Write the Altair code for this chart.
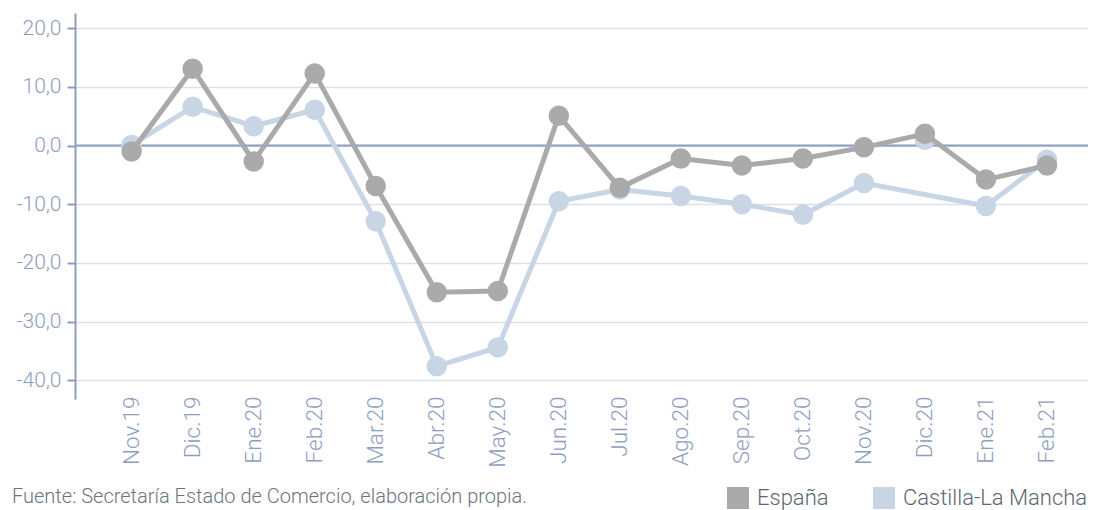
import altair as alt
import pandas as pd

months = ["Nov.19", "Dic.19", "Ene.20", "Feb.20", "Mar.20", "Abr.20", "May.20", "Jun.20",
          "Jul.20", "Ago.20", "Sep.20", "Oct.20", "Nov.20", "Dic.20", "Ene.21", "Feb.21"]
espana = [-1.0, 13.1, -2.7, 12.3, -6.9, -25.0, -24.8, 5.1, -7.2, -2.2, -3.4, -2.2, -0.3, 2.0, -5.8, -3.4]
clm = [0.1, 6.6, 3.3, 6.1, -12.9, -37.6, -34.4, -9.5, -7.5, -8.6, -10.0, -11.8, -6.4, 1.0, -10.3, -2.4]
clm_line_gap = ["Dic.20"]  # CLM line is drawn straight from Nov.20 to Ene.21
series = ["España", "Castilla-La Mancha"]
colors = ["#aaaaab", "#c7d5e5"]
y_ticks = [-40, -30, -20, -10, 0, 10, 20]
footnote = "Fuente: Secretaría Estado de Comercio, elaboración propia."

AXIS_COL = "#8d9dbe"
FONT = "Roboto"

rows = []
for m, e, c in zip(months, espana, clm):
    rows.append({"mes": m, "serie": "España", "valor": e, "enlinea": True})
    rows.append({"mes": m, "serie": "Castilla-La Mancha", "valor": c, "enlinea": m not in clm_line_gap})
df = pd.DataFrame(rows)

x_enc = alt.X("mes:N", sort=months,
              scale=alt.Scale(type="point", padding=0.80, align=0.58),
              axis=alt.Axis(title=None, labelAngle=-90, labelAlign="right", labelBaseline="middle",
                            labelPadding=-3, domain=False, ticks=False, grid=False,
                            labelColor=AXIS_COL, labelFont=FONT, labelFontSize=22.5,
                            labelFontWeight=300))
y_enc = alt.Y("valor:Q",
              scale=alt.Scale(domain=[-43.2, 22.6], nice=False, zero=False),
              axis=alt.Axis(title=None, values=y_ticks,
                            labelExpr="replace(replace(format(datum.value, '.1f'), '.', ','), '\u2212', '-')",
                            labelColor=AXIS_COL, labelFont=FONT, labelFontSize=21, labelFontWeight=300,
                            labelPadding=6, tickSize=8, tickColor=AXIS_COL, tickWidth=2,
                            domainColor=AXIS_COL, domainWidth=2,
                            grid=True, gridColor="#d9e1ec", gridWidth=1.5))
color_scale = alt.Scale(domain=series, range=colors)
legend = alt.Legend(title=None, orient="none", legendX=652, legendY=474, direction="horizontal",
                    symbolType="square", symbolSize=484, symbolStrokeWidth=0, symbolOpacity=1,
                    labelFont=FONT, labelFontSize=22, labelFontWeight=300, labelColor="#5b6670",
                    labelOffset=8, columnPadding=44, labelLimit=400)

base = alt.Chart(df)

zero = alt.Chart(pd.DataFrame({"v": [0]})).mark_rule(color=AXIS_COL, strokeWidth=2).encode(y=alt.Y("v:Q"))


def layers_for(s):
    d = base.transform_filter(alt.datum.serie == s)
    line = d.transform_filter(alt.datum.enlinea == True).mark_line(
        strokeWidth=5, color=colors[series.index(s)]).encode(x=x_enc, y=y_enc)
    pts = d.mark_point(filled=True, size=420, opacity=1).encode(
        x=x_enc, y=y_enc, color=alt.Color("serie:N", scale=color_scale, legend=legend))
    return [line, pts]


note = alt.Chart(pd.DataFrame({"t": [footnote]})).mark_text(
    align="left", baseline="alphabetic", font=FONT, fontSize=20, fontWeight=300, color="#6b7580"
).encode(text="t:N", x=alt.value(-63), y=alt.value(490))

chart = alt.layer(zero, *layers_for("Castilla-La Mancha"), *layers_for("España"), note).properties(
    width=1013, height=386,
    autosize=alt.AutoSizeParams(type="none"),
    padding={"left": 67, "top": 5, "right": 0, "bottom": 111},
).configure_view(stroke=None)

chart.save("out.html", embed_options={"renderer": "svg", "actions": False})
